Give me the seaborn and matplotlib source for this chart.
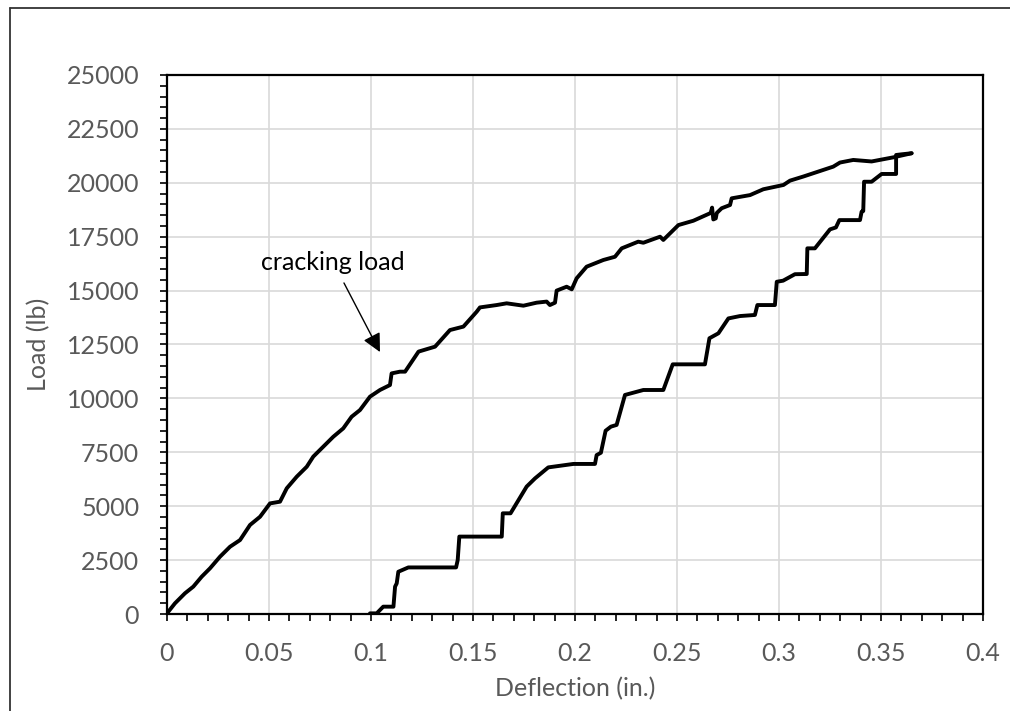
import numpy as np
import pandas as pd
import matplotlib
matplotlib.use("Agg")
import matplotlib.pyplot as plt
from matplotlib.lines import Line2D
from matplotlib.ticker import MultipleLocator
import seaborn as sns

# ---- data ----
load_x = [0.0, 0.0039, 0.0088, 0.0129, 0.017, 0.0211, 0.026, 0.0309, 0.0358, 0.0407,
          0.0456, 0.0505, 0.0554, 0.0587, 0.0636, 0.0685, 0.0717, 0.0766, 0.0815, 0.0864,
          0.0905, 0.0946, 0.0995, 0.1044, 0.1093, 0.1101, 0.1142, 0.1167, 0.1233, 0.1314,
          0.1387, 0.1453, 0.1518, 0.1534, 0.1616, 0.1665, 0.1747, 0.1812, 0.1861, 0.1877,
          0.1902, 0.191, 0.1959, 0.1984, 0.2008, 0.2057, 0.2139, 0.2196, 0.2229, 0.231,
          0.2335, 0.2417, 0.2433, 0.2507, 0.258, 0.2665, 0.2672, 0.2678, 0.2690, 0.2695,
          0.2719, 0.276, 0.2768, 0.2858, 0.2923, 0.3022, 0.3054, 0.3119, 0.3266, 0.3299,
          0.3364, 0.3454, 0.356, 0.365]
load_y = [30, 495, 960, 1270, 1730, 2120, 2660, 3120, 3430, 4130,
          4510, 5130, 5210, 5830, 6370, 6830, 7300, 7760, 8220, 8610,
          9150, 9460, 10080, 10390, 10620, 11160, 11240, 11240, 12170, 12400,
          13170, 13330, 14020, 14220, 14330, 14410, 14300, 14440, 14490, 14330,
          14440, 15000, 15180, 15060, 15570, 16110, 16420, 16570, 16960, 17270,
          17220, 17500, 17350, 18040, 18240, 18600, 18850, 18300, 18350, 18600,
          18820, 18970, 19280, 19430, 19700, 19900, 20100, 20290, 20750, 20940,
          21060, 20990, 21180, 21370]

reload_x = [0.0995, 0.1028, 0.106, 0.111, 0.1118, 0.1126, 0.1134, 0.1183, 0.1417, 0.1425,
            0.1433, 0.1641, 0.1646, 0.1684, 0.1763, 0.1804, 0.1869, 0.1992, 0.2098, 0.2106,
            0.2127, 0.215, 0.2176, 0.2204, 0.2245, 0.2335, 0.2433, 0.2479, 0.2637, 0.2659,
            0.2703, 0.2752, 0.2809, 0.2882, 0.2894, 0.298, 0.2989, 0.302, 0.3078, 0.3136,
            0.3139, 0.3176, 0.325, 0.3279, 0.3296, 0.3397, 0.3405, 0.3413, 0.3417, 0.3454,
            0.3503, 0.3574, 0.3574, 0.360, 0.365]
reload_y = [30, 30, 340, 340, 1270, 1420, 1960, 2160, 2160, 2500,
            3590, 3590, 4670, 4670, 5910, 6290, 6800, 6960, 6960, 7370,
            7480, 8500, 8690, 8770, 10160, 10390, 10390, 11580, 11580, 12790,
            13020, 13710, 13820, 13870, 14330, 14330, 15410, 15460, 15760, 15770,
            16960, 16960, 17840, 17930, 18270, 18270, 18660, 18690, 20050, 20050,
            20410, 20410, 21290, 21320, 21370]

x_ticks = [0, 0.05, 0.1, 0.15, 0.2, 0.25, 0.3, 0.35, 0.4]
x_tick_labels = ["0", "0.05", "0.1", "0.15", "0.2", "0.25", "0.3", "0.35", "0.4"]
y_ticks = [0, 2500, 5000, 7500, 10000, 12500, 15000, 17500, 20000, 22500, 25000]

df = pd.concat([
    pd.DataFrame({"x": load_x, "y": load_y, "curve": "load"}),
    pd.DataFrame({"x": reload_x, "y": reload_y, "curve": "reload"}),
], ignore_index=True)

sns.set_theme(style="white")
plt.rcParams["font.family"] = ["Lato", "DejaVu Sans"]

fig = plt.figure(figsize=(10.10, 7.11), dpi=100)
ax = fig.add_axes([167 / 1010, 1 - 614 / 711, (983 - 167) / 1010, (614 - 75) / 711])

sns.lineplot(data=df, x="x", y="y", units="curve", estimator=None, sort=False,
             color="black", lw=2.8, ax=ax, legend=False)

ax.set_xlim(0, 0.4)
ax.set_ylim(0, 25000)
ax.set_xticks(x_ticks)
ax.set_xticklabels(x_tick_labels)
ax.set_yticks(y_ticks)
ax.set_yticklabels([str(v) for v in y_ticks])
ax.xaxis.set_minor_locator(MultipleLocator(0.01))
ax.yaxis.set_minor_locator(MultipleLocator(500))

ax.grid(True, which="major", color="#d9d9d9", lw=1.2)
ax.set_axisbelow(True)
for s in ax.spines.values():
    s.set_color("black")
    s.set_linewidth(1.6)

gray = "#595959"
ax.tick_params(axis="both", which="both", direction="out", length=5, width=1.2,
               color="black", labelsize=18, labelcolor=gray, pad=15)
ax.tick_params(axis="x", which="both", bottom=True)
ax.tick_params(axis="y", which="both", left=True)

ax.set_xlabel("Deflection (in.)", fontsize=18, color=gray, labelpad=9)
ax.set_ylabel("Load (lb)", fontsize=18, color=gray, labelpad=12)

ax.annotate("cracking load", xy=(0.1044, 12150), xytext=(0.0814, 16326),
            ha="center", va="center", fontsize=18, color="black",
            arrowprops=dict(arrowstyle="-|>", color="black", lw=1.0,
                            mutation_scale=28, shrinkA=5, shrinkB=0))

# outer frame lines (left and top visible)
fig.add_artist(Line2D([10 / 1010, 10 / 1010], [0, 1 - 8 / 711], transform=fig.transFigure,
                      color="#333333", lw=1.3))
fig.add_artist(Line2D([10 / 1010, 1], [1 - 8 / 711, 1 - 8 / 711], transform=fig.transFigure,
                      color="#333333", lw=1.3))

fig.savefig("out.png", dpi=100)
